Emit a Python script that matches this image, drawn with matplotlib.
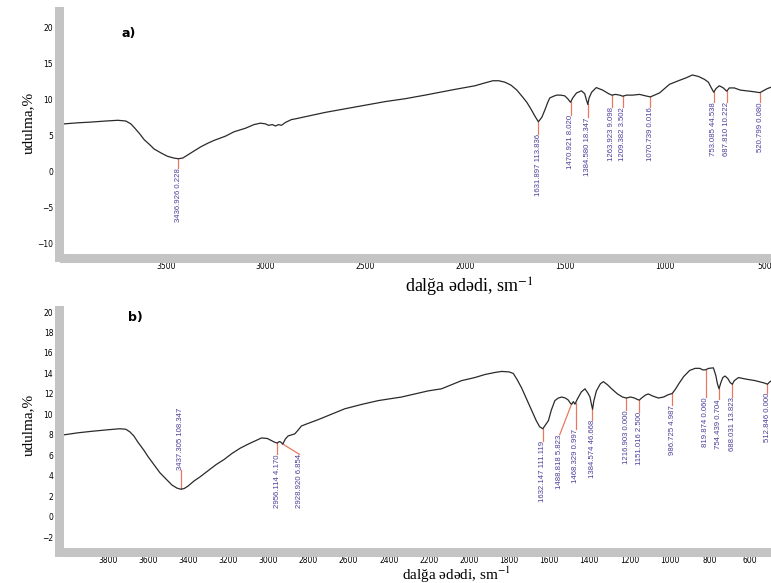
import numpy as np
import matplotlib
matplotlib.use("Agg")
import matplotlib.pyplot as plt
from matplotlib.ticker import MultipleLocator
from matplotlib.patches import Rectangle

plt.rcParams['mathtext.fontset'] = 'stix'

# --- spectrum a) : wavenumber (sm-1) and absorption (%) ---
wn_a = [4010, 3940, 3875, 3800, 3740, 3700, 3675, 3658, 3630, 3608, 3580, 3558,
        3520, 3492, 3460, 3437, 3415, 3400, 3360, 3325, 3290, 3258, 3200, 3158,
        3100, 3058, 3025, 3000, 2985, 2965, 2950, 2935, 2920, 2900, 2870, 2850,
        2800, 2700, 2600, 2500, 2400, 2300, 2200, 2125, 2050, 1950, 1900, 1860,
        1830, 1800, 1770, 1740, 1710, 1690, 1670, 1650, 1632, 1615, 1600, 1585,
        1575, 1560, 1541, 1520, 1500, 1485, 1471, 1460, 1441, 1416, 1400, 1392,
        1384, 1378, 1365, 1342, 1310, 1280, 1264, 1245, 1225, 1209, 1190, 1160,
        1125, 1095, 1071, 1050, 1025, 1000, 975, 930, 892, 860, 830, 800, 780,
        765, 753, 742, 725, 705, 688, 675, 650, 620, 590, 560, 535, 521, 505,
        485, 466]
absorb_a = [6.6, 6.75, 6.85, 7.0, 7.1, 7.0, 6.6, 6.1, 5.2, 4.4, 3.7, 3.1,
            2.5, 2.1, 1.85, 1.75, 1.85, 2.1, 2.8, 3.4, 3.9, 4.3, 4.9, 5.5,
            6.0, 6.5, 6.7, 6.6, 6.4, 6.5, 6.3, 6.5, 6.4, 6.8, 7.2, 7.3,
            7.6, 8.2, 8.7, 9.2, 9.7, 10.1, 10.6, 11.0, 11.4, 11.9, 12.3, 12.6,
            12.6, 12.4, 12.0, 11.3, 10.3, 9.6, 8.7, 7.7, 6.9, 7.5, 8.5, 9.6,
            10.2, 10.4, 10.6, 10.6, 10.5, 10.1, 9.6, 10.2, 10.9, 11.2, 10.8, 10.0,
            9.3, 10.2, 11.0, 11.65, 11.3, 10.8, 10.6, 10.7, 10.6, 10.45, 10.6, 10.6,
            10.7, 10.5, 10.35, 10.6, 10.9, 11.5, 12.1, 12.6, 13.0, 13.4, 13.2, 12.8, 12.4,
            11.6, 11.0, 11.5, 11.9, 11.6, 11.15, 11.6, 11.6, 11.3, 11.2, 11.1, 11.0, 10.95, 11.2,
            11.5, 11.7]
peaks_a = [3436.926, 1631.897, 1470.921, 1384.580, 1263.923, 1209.382,
           1070.739, 753.085, 687.810, 520.799]
peak_text_a = ["3436.926 0.228", "1631.897 113.836", "1470.921 8.020",
               "1384.580 18.347", "1263.923 9.098", "1209.382 3.502",
               "1070.739 0.016", "753.085 44.538", "687.810 10.222",
               "520.799 0.080"]

# --- spectrum b) ---
wn_b = [4020, 3950, 3880, 3800, 3740, 3710, 3690, 3670, 3650, 3620, 3600, 3570,
        3540, 3510, 3480, 3455, 3437, 3420, 3400, 3370, 3340, 3300, 3260, 3220,
        3180, 3140, 3100, 3034, 3005, 2985, 2970, 2956, 2945, 2938, 2928, 2915,
        2901, 2868, 2850, 2835, 2810, 2750, 2700, 2619, 2530, 2452, 2336, 2203,
        2137, 2037, 1971, 1920, 1870, 1837, 1800, 1779, 1760, 1738, 1715, 1688,
        1665, 1648, 1632, 1618, 1604, 1590, 1572, 1555, 1538, 1520, 1505, 1495,
        1488, 1480, 1472, 1460, 1440, 1422, 1408, 1397, 1390, 1384, 1378, 1365,
        1345, 1330, 1310, 1289, 1260, 1235, 1216, 1195, 1175, 1160, 1151, 1140,
        1120, 1106, 1085, 1056, 1030, 1010, 987, 970, 956, 930, 900, 873, 850,
        835, 823, 805, 782, 770, 762, 754, 745, 735, 724, 710, 698, 688, 678,
        657, 620, 574, 545, 525, 513, 500, 491]
absorb_b = [8.0, 8.2, 8.35, 8.5, 8.6, 8.55, 8.3, 7.9, 7.3, 6.5, 5.9, 5.1,
            4.3, 3.7, 3.1, 2.8, 2.7, 2.75, 3.0, 3.5, 3.9, 4.5, 5.1, 5.6,
            6.2, 6.7, 7.1, 7.7, 7.65, 7.45, 7.3, 7.2, 7.35, 7.3, 7.1, 7.6,
            7.9, 8.1, 8.5, 8.87, 9.06, 9.5, 9.9, 10.55, 11.0, 11.35, 11.7, 12.3,
            12.5, 13.3, 13.6, 13.9, 14.1, 14.2, 14.15, 14.0, 13.4, 12.6, 11.6, 10.4,
            9.4, 8.8, 8.6, 9.0, 9.4, 10.4, 11.35, 11.6, 11.7, 11.6, 11.4, 11.1,
            11.0, 11.25, 11.0, 11.5, 12.2, 12.5, 12.1, 11.7, 11.0, 10.5, 11.3, 12.3,
            13.0, 13.2, 12.9, 12.5, 12.0, 11.7, 11.6, 11.7, 11.6, 11.45, 11.4, 11.6,
            11.9, 12.0, 11.8, 11.6, 11.7, 11.9, 12.05, 12.5, 12.95, 13.7, 14.3, 14.5, 14.5,
            14.35, 14.35, 14.5, 14.55, 13.8, 13.0, 12.5, 13.1, 13.6, 13.75, 13.5, 13.1, 12.95, 13.3,
            13.6, 13.45, 13.3, 13.15, 13.05, 12.95, 13.2, 13.3]
peaks_b = [3437.305, 2956.114, 2928.920, 1632.147, 1488.818, 1468.329,
           1384.574, 1216.903, 1151.016, 986.725, 819.874, 754.439,
           688.031, 512.846]
peak_text_b = ["3437.305 108.347", "2956.114 4.170", "2928.920 6.854",
               "1632.147 111.119", "1488.818 5.823", "1468.329 0.997",
               "1384.574 46.668", "1216.903 0.000", "1151.016 2.500",
               "986.725 4.987", "819.874 0.060", "754.439 0.704",
               "688.031 13.823", "512.846 0.000"]

# tag layout: y where each tag line ends, shifted text columns, tags above the curve
tag_end_a = [0.5, 5.2, 7.9, 7.5, 9.0, 8.9, 8.9, 9.6, 9.6, 9.6]
tag_end_b = [4.6, 6.1, 6.1, 7.4, 8.0, 8.6, 9.5, 10.4, 10.2, 10.9, 11.7, 11.5, 11.7, 12.1]
tag_x_b = {2928.920: 2845, 1488.818: 1548}
tag_up_b = {3437.305}

W, H = 771, 583
GRAY = '#c4c4c4'
TICK_RED = '#d9534f'
CURVE = '#2a2a2a'
TAG_LINE = '#e8795f'
TAG_TEXT = '#4e3d99'
NARROW = ['Liberation Sans Narrow', 'Liberation Sans', 'DejaVu Sans']
SERIF = ['Liberation Serif', 'DejaVu Serif']


def style_axes(ax, xlim, ylim, xminor, yticks, xticks):
    ax.set_xlim(*xlim)
    ax.set_ylim(*ylim)
    for s in ('top', 'right'):
        ax.spines[s].set_visible(False)
    for s in ('left', 'bottom'):
        ax.spines[s].set_color(GRAY)
        ax.spines[s].set_linewidth(6.5)
        ax.spines[s].set_position(('outward', 3.25))
    ax.set_yticks(yticks)
    ax.set_xticks(xticks)
    ax.set_xticklabels([str(t) for t in xticks])
    ax.xaxis.set_minor_locator(MultipleLocator(xminor))
    ax.tick_params(which='major', direction='inout', length=4, width=0.8,
                   color=TICK_RED, labelsize=5.5, pad=2.5)
    ax.tick_params(axis='x', which='major', pad=1.2)
    ax.tick_params(which='minor', direction='inout', length=1.6, width=0.8,
                   color='#8a4a4a')
    ax.tick_params(axis='y', which='minor', left=False)


def draw_tags(ax, wn, absorb, peaks, texts, ends, text_x, up):
    xs = np.array(wn, dtype=float)[::-1]
    ys = np.array(absorb, dtype=float)[::-1]
    for p, t, e in zip(peaks, texts, ends):
        y0 = np.interp(p, xs, ys)
        tx = text_x.get(p, p)
        ax.plot([p, tx], [y0, e], color=TAG_LINE, lw=0.9, zorder=2)
        ax.text(tx, e, t, rotation=90, ha='center',
                va='bottom' if p in up else 'top',
                fontsize=5.6, color=TAG_TEXT, family=NARROW)


fig = plt.figure(figsize=(W / 100, H / 100), dpi=100)
ax_a = fig.add_axes([64 / W, 1 - 253.3 / H, 707 / W, 242.3 / H])
ax_b = fig.add_axes([64 / W, 1 - 547.5 / H, 707 / W, 237.5 / H])

ax_a.plot(wn_a, absorb_a, color=CURVE, lw=0.9, zorder=3)
style_axes(ax_a, (4010, 466), (-11.4, 22.3), 100,
           list(range(-10, 21, 5)), [3500, 3000, 2500, 2000, 1500, 1000, 500])
draw_tags(ax_a, wn_a, absorb_a, peaks_a, peak_text_a, tag_end_a, {}, set())

ax_b.plot(wn_b, absorb_b, color=CURVE, lw=0.9, zorder=3)
style_axes(ax_b, (4018, 495), (-3.0, 20.2), 40,
           list(range(-2, 21, 2)), list(range(3800, 599, -200)))
draw_tags(ax_b, wn_b, absorb_b, peaks_b, peak_text_b, tag_end_b, tag_x_b, tag_up_b)

# gray corner where the two bands meet
for y_top in (253.3, 547.5):
    fig.add_artist(Rectangle((55 / W, 1 - (y_top + 9) / H), 9 / W, 9 / H,
                             transform=fig.transFigure, color=GRAY, lw=0))

# panel letters
fig.text(122 / W, 1 - 33 / H, 'a)', fontsize=9, fontweight='bold', va='center')
fig.text(128 / W, 1 - 317 / H, 'b)', fontsize=9, fontweight='bold', va='center')

# axis titles
for yc in (123, 425):
    fig.text(28 / W, 1 - yc / H, 'udulma,%', rotation=90, ha='center', va='center',
             fontsize=11, family=SERIF)
fig.text(469 / W, 1 - 276 / H, 'dalğa ədədi, sm$^{-1}$', ha='center', va='top',
         fontsize=13, family=SERIF)
fig.text(457 / W, 1 - 565 / H, 'dalğa ədədi, sm$^{-1}$', ha='center', va='top',
         fontsize=11, family=SERIF)

fig.savefig('out.png', dpi=100)
